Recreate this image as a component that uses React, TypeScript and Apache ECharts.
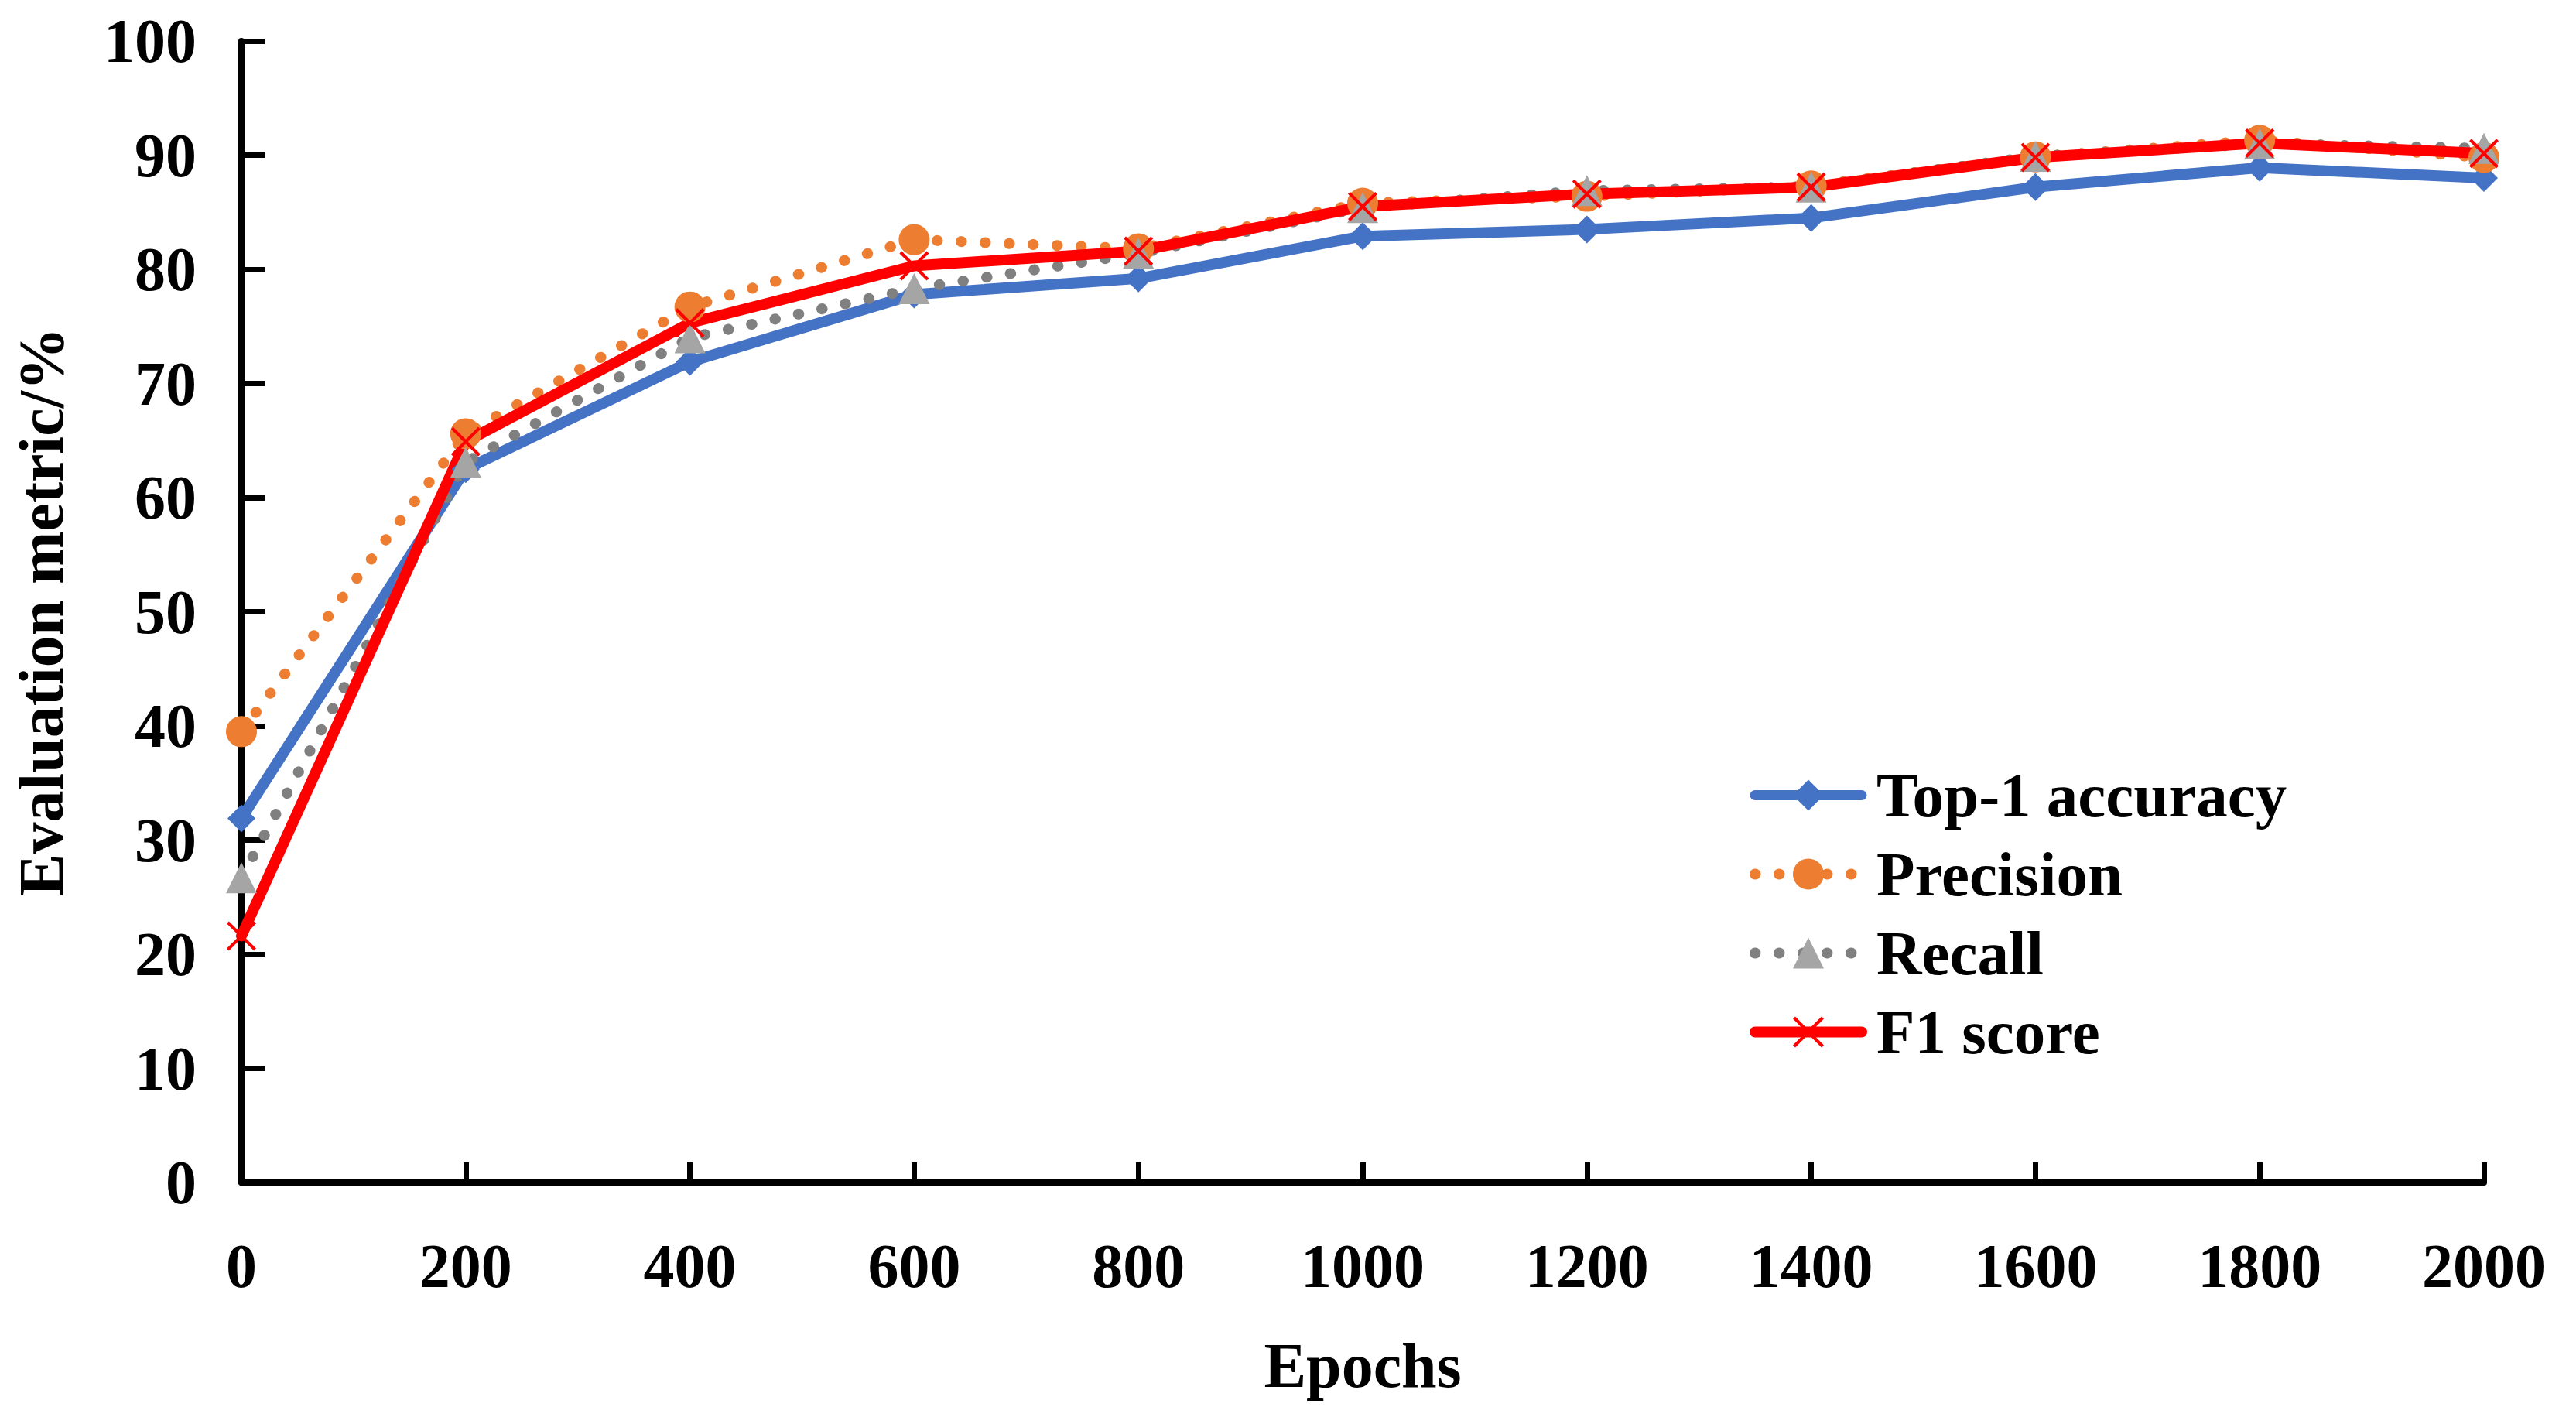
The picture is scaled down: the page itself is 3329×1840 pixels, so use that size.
import React, { useEffect, useRef } from "react";
import * as echarts from "echarts";

const epochs = [0, 200, 400, 600, 800, 1000, 1200, 1400, 1600, 1800, 2000];
const top1 = [31.9, 62.5, 71.9, 77.8, 79.2, 82.9, 83.5, 84.5, 87.2, 88.9, 88.0];
const precision = [39.5, 65.6, 76.7, 82.6, 81.8, 85.8, 86.4, 87.3, 89.85, 91.3, 89.8];
const recall = [26.7, 63.1, 74.0, 78.3, 81.4, 85.4, 86.9, 87.2, 89.9, 91.0, 90.6];
const f1 = [21.6, 64.9, 75.3, 80.3, 81.6, 85.5, 86.6, 87.2, 89.8, 91.05, 90.15];
const seriesNames = ["Top-1 accuracy", "Precision", "Recall", "F1 score"];

const FONT = "Liberation Serif";
const X_PATH =
  "path://M1.5,0 L10,8.5 L18.5,0 L20,1.5 L11.5,10 L20,18.5 L18.5,20 L10,11.5 L1.5,20 L0,18.5 L8.5,10 L0,1.5 Z";
const DOT_DASH = [0.5, 30.5];

const pairs = (ys: number[]) => epochs.map((x, i) => [x, ys[i]]);

export default function App() {
  const ref = useRef<HTMLDivElement>(null);
  useEffect(() => {
    if (!ref.current) return;
    const chart = echarts.init(ref.current, undefined, { renderer: "svg" });
    const axisNameStyle = {
      fontFamily: FONT,
      fontWeight: "bold" as const,
      fontSize: 82,
      color: "#000",
    };
    chart.setOption({
      animation: false,
      backgroundColor: "#fff",
      grid: {
        left: 312,
        right: 119,
        top: 53,
        bottom: 312,
        containLabel: false,
        outerBoundsMode: "none",
      },
      legend: {
        orient: "vertical",
        left: 2256,
        top: 982,
        itemWidth: 138,
        itemHeight: 50,
        itemGap: 21,
        data: [
          { name: seriesNames[0], lineStyle: { width: 13, cap: "round", color: "#4472C4" } },
          { name: seriesNames[1], lineStyle: { width: 14, cap: "round", type: DOT_DASH, color: "#ED7D31" } },
          { name: seriesNames[2], lineStyle: { width: 14, cap: "round", type: DOT_DASH, color: "#808080" } },
          { name: seriesNames[3], lineStyle: { width: 14, cap: "round", color: "#FF0000" } },
        ],
        textStyle: {
          fontFamily: FONT,
          fontWeight: "bold",
          fontSize: 81,
          lineHeight: 80,
          color: "#000",
          padding: [0, 0, 0, 14],
        },
      },
      xAxis: {
        type: "value",
        min: 0,
        max: 2000,
        interval: 200,
        name: "Epochs",
        nameLocation: "middle",
        nameGap: 195,
        nameTextStyle: axisNameStyle,
        axisLine: { show: true, lineStyle: { color: "#000", width: 8 } },
        axisTick: { show: true, inside: true, length: 26, lineStyle: { color: "#000", width: 7 } },
        axisLabel: {
          margin: 68,
          formatter: (v: number) => String(v),
          fontFamily: FONT,
          fontWeight: "bold",
          fontSize: 80,
          color: "#000",
        },
        splitLine: { show: false },
      },
      yAxis: {
        type: "value",
        min: 0,
        max: 100,
        interval: 10,
        name: "Evaluation metric/%",
        nameLocation: "middle",
        nameGap: 218,
        nameTextStyle: axisNameStyle,
        axisLine: { show: true, lineStyle: { color: "#000", width: 8 } },
        axisTick: { show: true, inside: true, length: 30, lineStyle: { color: "#000", width: 7 } },
        axisLabel: {
          margin: 58,
          fontFamily: FONT,
          fontWeight: "bold",
          fontSize: 80,
          color: "#000",
        },
        splitLine: { show: false },
      },
      series: [
        {
          name: seriesNames[0],
          type: "line",
          data: pairs(top1),
          symbol: "diamond",
          symbolSize: 36,
          itemStyle: { color: "#4472C4" },
          lineStyle: { color: "#4472C4", width: 14, cap: "round", join: "round" },
          clip: false,
        },
        {
          name: seriesNames[1],
          type: "line",
          data: pairs(precision),
          symbol: "circle",
          symbolSize: 40,
          itemStyle: { color: "#ED7D31" },
          lineStyle: { color: "#ED7D31", width: 14, type: DOT_DASH, cap: "round" },
          clip: false,
        },
        {
          name: seriesNames[2],
          type: "line",
          data: pairs(recall),
          symbol: "triangle",
          symbolSize: 40,
          itemStyle: { color: "#A5A5A5" },
          lineStyle: { color: "#808080", width: 14, type: DOT_DASH, cap: "round" },
          clip: false,
        },
        {
          name: seriesNames[3],
          type: "line",
          data: pairs(f1),
          symbol: X_PATH,
          symbolSize: 38,
          itemStyle: { color: "#FF0000" },
          lineStyle: { color: "#FF0000", width: 14, cap: "round", join: "round" },
          clip: false,
        },
      ],
    });
    return () => chart.dispose();
  }, []);
  return (
    <div
      ref={ref}
      style={{ position: "fixed", left: 0, top: 0, width: 3329, height: 1840, background: "#fff" }}
    />
  );
}
